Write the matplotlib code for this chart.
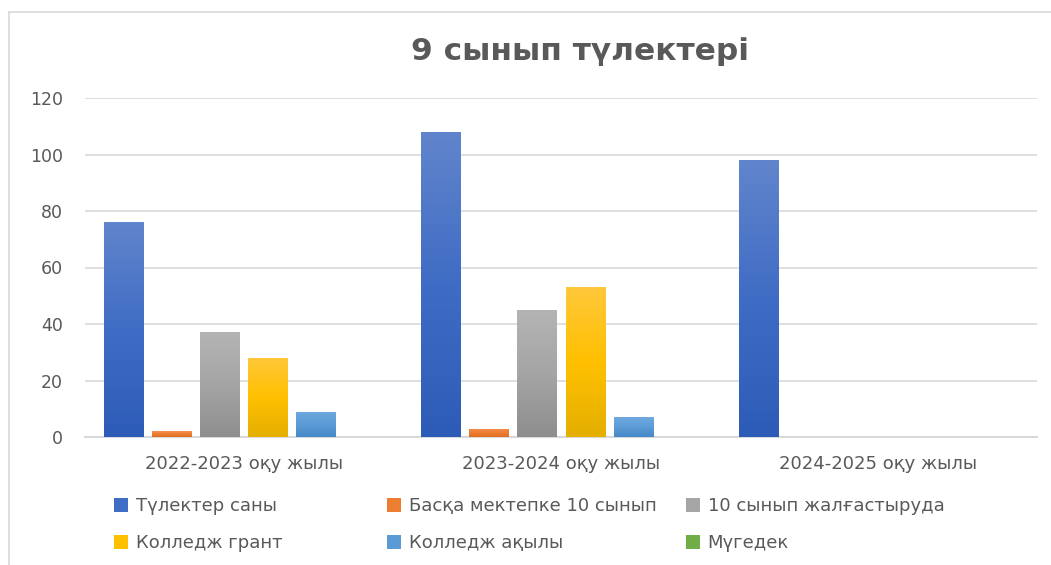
import matplotlib
matplotlib.use('Agg')
import matplotlib.pyplot as plt
import numpy as np
from matplotlib.patches import Patch
from matplotlib.lines import Line2D
from matplotlib.colors import LinearSegmentedColormap

plt.rcParams['font.family'] = ['DejaVu Sans']

# data
years = ['2022-2023 оқу жылы', '2023-2024 оқу жылы', '2024-2025 оқу жылы']
series_names = ['Түлектер саны', 'Басқа мектепке 10 сынып', '10 сынып жалғастыруда',
                'Колледж грант', 'Колледж ақылы', 'Мүгедек']
tulekter = [76, 108, 98]
baska_mektep = [2, 3, 0]
jalgastyru = [37, 45, 0]
koll_grant = [28, 53, 0]
koll_akyly = [9, 7, 0]
mugedek = [0, 0, 0]
yticks = [0, 20, 40, 60, 80, 100, 120]

values = [tulekter, baska_mektep, jalgastyru, koll_grant, koll_akyly, mugedek]
# (top, mid, bottom) colours of the bar gradients
grads = [('#6185CC', '#3F6CC4', '#2D5CB8'),
         ('#F5914E', '#ED7D31', '#E06E22'),
         ('#B4B4B4', '#A5A5A5', '#8E8E8E'),
         ('#FFC83A', '#FFC000', '#E4AF00'),
         ('#6FA9E0', '#5B9BD5', '#4689C9'),
         ('#7DBA55', '#70AD47', '#5E9A38')]
txt = '#595959'
grid_c = '#D9D9D9'

fig = plt.figure(figsize=(10.51, 5.65), dpi=100)
ax = fig.add_axes([85/1051, 1-437/565, (1037-85)/1051, (437-98)/565])

x = np.arange(len(years))
w = 0.123
step = 0.1515
grad = np.linspace(1, 0, 100).reshape(-1, 1)
for i, vals in enumerate(values):
    cmap = LinearSegmentedColormap.from_list('g%d' % i, [grads[i][2], grads[i][1], grads[i][0]])
    pos = x + (i - 2.5) * step
    bars = ax.bar(pos, vals, w, color=grads[i][1], zorder=2, linewidth=0)
    for b in bars:
        if b.get_height() <= 0:
            continue
        im = ax.imshow(grad, extent=[b.get_x(), b.get_x()+b.get_width(), 0, b.get_height()],
                       cmap=cmap, aspect='auto', zorder=3, vmin=0, vmax=1)
        im.set_clip_path(b)

ax.set_xlim(-0.5, 2.5)
ax.set_ylim(0, 120)
ax.set_yticks(yticks)
ax.set_xticks(x)
ax.set_xticklabels(years)
ax.tick_params(axis='both', length=0, colors=txt, labelsize=13)
ax.tick_params(axis='y', labelsize=12.5)
ax.tick_params(axis='x', pad=13)
ax.tick_params(axis='y', pad=16)
ax.grid(axis='y', color=grid_c, linewidth=1.2, zorder=0)
for s in ['top', 'right', 'left']:
    ax.spines[s].set_visible(False)
ax.spines['bottom'].set_color(grid_c)
ax.spines['bottom'].set_linewidth(1.5)
ax.set_axisbelow(True)

fig.text(580/1051, 1-52/565, '9 сынып түлектері', ha='center', va='center',
         fontsize=22.5, fontweight='bold', color=txt)

# legend laid out in three columns like the original
cols = [(113, [0, 3]), (386, [1, 4]), (685, [2, 5])]
for xpix, idx in cols:
    handles = [Patch(facecolor=grads[k][1], edgecolor='none') for k in idx]
    labels = [series_names[k] for k in idx]
    leg = fig.legend(handles, labels, loc='upper left',
                     bbox_to_anchor=(xpix/1051 - 0.006, 1-490/565), frameon=False,
                     fontsize=13, handlelength=0.8, handleheight=0.8,
                     handletextpad=0.4, labelspacing=1.05, borderaxespad=0)
    for t in leg.get_texts():
        t.set_color(txt)

# chart area border (top and left edges visible)
fig.add_artist(Line2D([9/1051, 1.0], [1-12/565, 1-12/565], color='#D9D9D9', linewidth=1.2))
fig.add_artist(Line2D([9/1051, 9/1051], [0.0, 1-12/565], color='#D9D9D9', linewidth=1.2))

fig.savefig('out.png', dpi=100)
